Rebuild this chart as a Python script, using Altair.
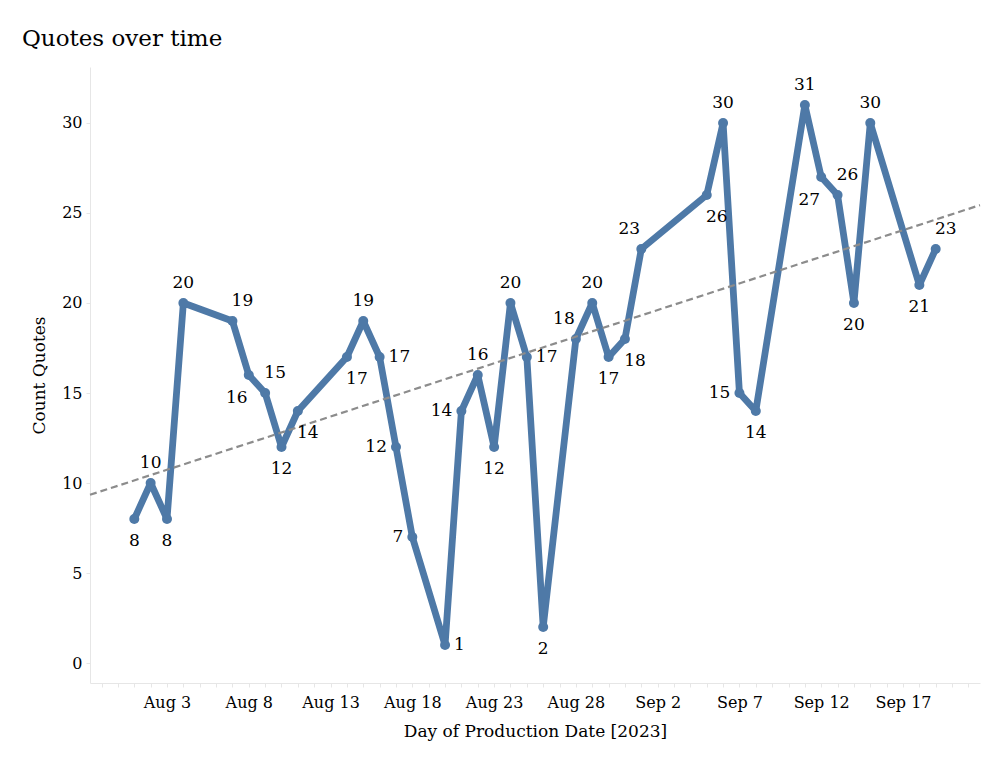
import altair as alt
import pandas as pd

dates = ["2023-08-01", "2023-08-02", "2023-08-03", "2023-08-04", "2023-08-07",
         "2023-08-08", "2023-08-09", "2023-08-10", "2023-08-11", "2023-08-14",
         "2023-08-15", "2023-08-16", "2023-08-17", "2023-08-18", "2023-08-20",
         "2023-08-21", "2023-08-22", "2023-08-23", "2023-08-24", "2023-08-25",
         "2023-08-26", "2023-08-28", "2023-08-29", "2023-08-30", "2023-08-31",
         "2023-09-01", "2023-09-05", "2023-09-06", "2023-09-07", "2023-09-08",
         "2023-09-11", "2023-09-12", "2023-09-13", "2023-09-14", "2023-09-15",
         "2023-09-18", "2023-09-19"]
counts = [8, 10, 8, 20, 19, 16, 15, 12, 14, 17,
          19, 17, 12, 7, 1, 14, 16, 12, 20, 17,
          2, 18, 20, 17, 18, 23, 26, 30, 15, 14,
          31, 27, 26, 20, 30, 21, 23]
# label placement relative to the point (t=top, b=bottom, l=left, r=right)
label_pos = ["b", "t", "b", "t", "tr", "bl", "tr", "b", "br", "br",
             "t", "r", "l", "l", "r", "l", "t", "b", "t", "r",
             "b", "tl", "t", "b", "br", "tl", "br", "t", "l", "b",
             "t", "bl", "tr", "b", "t", "b", "tr"]


def ms(s):
    return int(pd.Timestamp(s).value // 10**6)


x_lo = ms("2023-07-29 07:00")
x_hi = ms("2023-09-21 17:00")
label_anchor = ms("2023-08-03")

df = pd.DataFrame({"date": dates, "count": counts, "pos": label_pos})

FONT = "DejaVu Serif"
BLUE = "#4e79a7"

x_enc = alt.X(
    "date:T",
    scale=alt.Scale(type="utc", domain=[x_lo, x_hi], nice=False),
    axis=alt.Axis(
        title="Day of Production Date [2023]",
        tickCount={"interval": "day", "step": 1},
        labelExpr=f"(round((datum.value - {label_anchor})/86400000) % 5 == 0) ? utcFormat(datum.value, '%b %-d') : ''",
        grid=False,
        tickSize=4,
        tickColor="#e6e6e6",
        domainColor="#e6e6e6",
        labelPadding=7,
        titlePadding=13,
        labelOverlap=False,
        labelFontSize=16,
        titleFontSize=17,
    ),
)
y_enc = alt.Y(
    "count:Q",
    scale=alt.Scale(domain=[-1.111, 33.111], nice=False, zero=False),
    axis=alt.Axis(
        title="Count Quotes",
        values=[0, 5, 10, 15, 20, 25, 30],
        grid=False,
        tickSize=4,
        tickColor="#e6e6e6",
        domainColor="#e6e6e6",
        labelPadding=4,
        titlePadding=13,
        labelFontSize=16,
        titleFontSize=17,
    ),
)

base = alt.Chart(df)

line = base.mark_line(color=BLUE, strokeWidth=6.8, strokeJoin="round").encode(x=x_enc, y=y_enc)
points = base.mark_circle(color=BLUE, size=100, opacity=1).encode(x="date:T", y="count:Q")

trend = (
    base.transform_regression("date", "count", extent=[x_lo, x_hi])
    .mark_line(color="#8c8c8c", strokeWidth=2.2, strokeDash=[7, 4])
    .encode(x="date:T", y="count:Q")
)

offsets = {
    "t": (0, -20, "center"),
    "b": (0, 22, "center"),
    "l": (-9, 0, "right"),
    "r": (9, 0, "left"),
    "tr": (10, -20, "center"),
    "tl": (-12, -20, "center"),
    "br": (10, 22, "center"),
    "bl": (-12, 23, "center"),
}
label_layers = []
for code, (dx, dy, al) in offsets.items():
    label_layers.append(
        base.transform_filter(alt.datum.pos == code)
        .mark_text(dx=dx, dy=dy, align=al, baseline="middle", font=FONT, fontSize=17, color="#000000")
        .encode(x="date:T", y="count:Q", text="count:Q")
    )

chart = (
    alt.layer(line, points, trend, *label_layers)
    .properties(
        width=890,
        height=616,
        autosize=alt.AutoSizeParams(type="none"),
        padding={"left": 82, "top": 59, "right": 4, "bottom": 90},
        title=alt.TitleParams(
            "Quotes over time",
            anchor="start",
            frame="group",
            fontSize=23,
            font=FONT,
            fontWeight="normal",
            color="#000000",
            dx=-68,
            dy=22,
            offset=20,
            baseline="alphabetic",
        ),
        background="#ffffff",
    )
    .configure_view(stroke=None)
    .configure_axis(
        labelFont=FONT,
        titleFont=FONT,
        labelColor="#000000",
        titleColor="#000000",
        titleFontWeight="normal",
    )
)

chart.save("out.html", embed_options={"renderer": "svg", "actions": False})
